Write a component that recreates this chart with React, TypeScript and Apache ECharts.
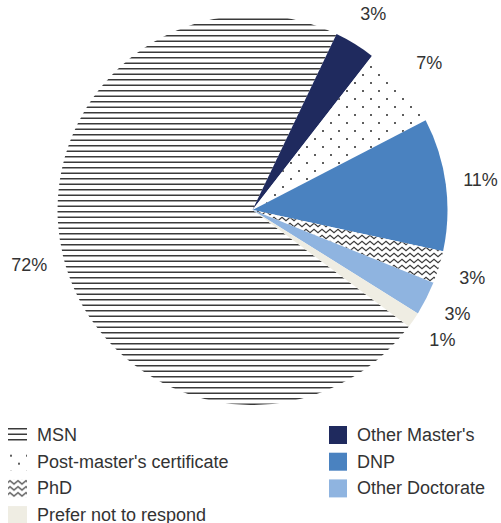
import React, { useEffect, useRef } from 'react';
import * as echarts from 'echarts';

const categories = [
  'MSN',
  "Other Master's",
  "Post-master's certificate",
  'DNP',
  'PhD',
  'Other Doctorate',
  'Prefer not to respond',
];
const values = [71.9, 3.4, 6.9, 11.0, 2.7, 2.8, 1.3];
const leftLegend = ['MSN', "Post-master's certificate", 'PhD', 'Prefer not to respond'];
const rightLegend = ["Other Master's", 'DNP', 'Other Doctorate'];

const FONT = '"Liberation Sans", Arial, Helvetica, sans-serif';

function makeCanvas(w: number, h: number, draw: (ctx: CanvasRenderingContext2D) => void) {
  const c = document.createElement('canvas');
  c.width = w;
  c.height = h;
  const ctx = c.getContext('2d') as CanvasRenderingContext2D;
  ctx.fillStyle = '#ffffff';
  ctx.fillRect(0, 0, w, h);
  draw(ctx);
  return c;
}

function linesPattern() {
  return makeCanvas(8, 11, (ctx) => {
    ctx.fillStyle = '#3a3a3a';
    ctx.fillRect(0, 2.0, 8, 1.5);
    ctx.fillRect(0, 7.5, 8, 1.5);
  });
}

function dotsPattern() {
  return makeCanvas(16, 16, (ctx) => {
    ctx.fillStyle = '#2a2a2a';
    ctx.beginPath();
    ctx.arc(3, 3, 1.0, 0, Math.PI * 2);
    ctx.fill();
    ctx.beginPath();
    ctx.arc(11, 11, 1.0, 0, Math.PI * 2);
    ctx.fill();
  });
}

function wavePattern() {
  return makeCanvas(8, 6, (ctx) => {
    ctx.strokeStyle = '#3a3a3a';
    ctx.lineWidth = 1.1;
    ctx.beginPath();
    ctx.moveTo(-2, 4.5);
    ctx.lineTo(0, 3);
    ctx.lineTo(2, 1.3);
    ctx.lineTo(4, 3);
    ctx.lineTo(6, 4.7);
    ctx.lineTo(8, 3);
    ctx.lineTo(10, 1.3);
    ctx.stroke();
  });
}

export default function App() {
  const ref = useRef<HTMLDivElement>(null);

  useEffect(() => {
    document.body.style.margin = '0';
    if (!ref.current) return;
    const chart = echarts.init(ref.current, undefined, { renderer: 'svg' });

    const fills: any[] = [
      { image: linesPattern(), repeat: 'repeat' },
      '#1f2a5e',
      { image: dotsPattern(), repeat: 'repeat' },
      '#4a82c0',
      { image: wavePattern(), repeat: 'repeat' },
      '#8fb4e0',
      '#efede3',
    ];

    const data = categories.map((name, i) => ({
      name,
      value: values[i],
      itemStyle: { color: fills[i] },
    }));

    const center = [252.5, 210];
    const startAngle = -36.7;

    const legendCommon = {
      orient: 'vertical' as const,
      top: 426,
      height: 140,
      padding: 0,
      itemWidth: 19,
      itemHeight: 18,
      itemGap: 8.7,
      icon: 'rect',
      selectedMode: false,
      textStyle: { fontSize: 18, color: '#333333', fontFamily: FONT, padding: [0, 0, 0, 5] },
    };

    chart.setOption({
      animation: false,
      backgroundColor: '#ffffff',
      legend: [
        { ...legendCommon, left: 8, data: leftLegend },
        { ...legendCommon, left: 329, itemWidth: 18, data: rightLegend },
      ],
      series: [
        {
          type: 'pie',
          center,
          radius: 195,
          startAngle,
          clockwise: true,
          silent: true,
          label: { show: false },
          labelLine: { show: false },
          emphasis: { disabled: true },
          data,
        },
        {
          type: 'pie',
          center,
          radius: [218, 236],
          startAngle,
          clockwise: true,
          silent: true,
          itemStyle: { color: 'rgba(0,0,0,0)' },
          label: {
            show: true,
            position: 'inside',
            fontSize: 18,
            color: '#333333',
            fontFamily: FONT,
            formatter: (p: any) => Math.round(p.value) + '%',
          },
          labelLine: { show: false },
          emphasis: { disabled: true },
          data: categories.map((name, i) => ({ name, value: values[i] })),
        },
      ],
    });

    return () => chart.dispose();
  }, []);

  return <div ref={ref} style={{ width: 501, height: 523 }} />;
}
